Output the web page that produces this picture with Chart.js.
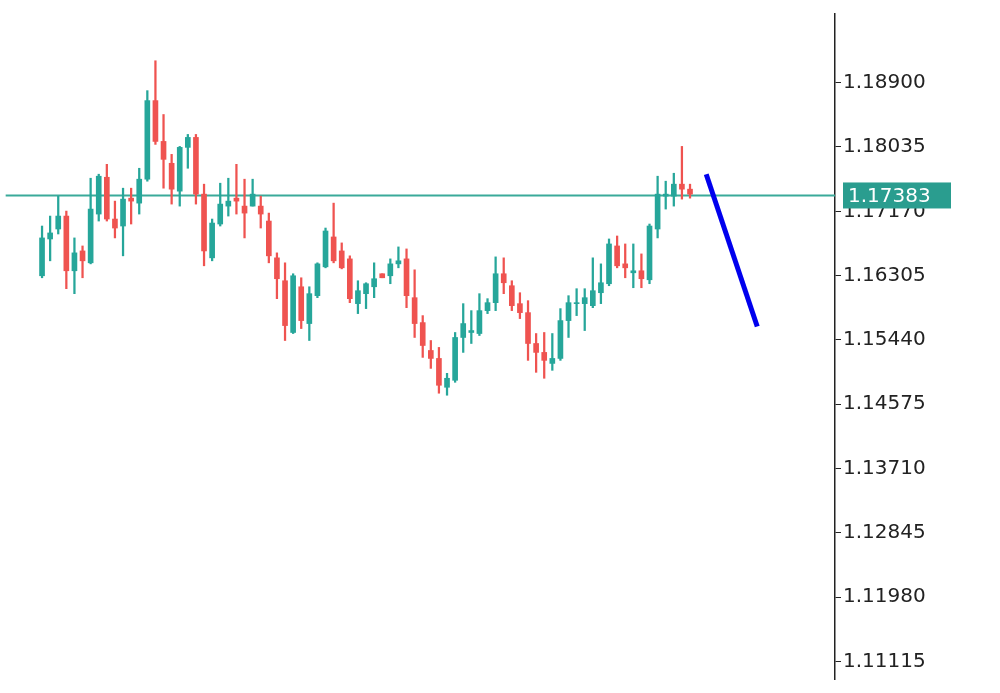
<!DOCTYPE html>
<html><head><meta charset="utf-8">
<script src="https://cdn.jsdelivr.net/npm/chart.js@4"></script>
<style>html,body{margin:0;padding:0;background:#fff}#w{width:1000px;height:693px}</style>
</head><body><div id="w"><canvas id="c"></canvas></div>
<script>
const opens=[1.16303,1.16798,1.16932,1.17106,1.16370,1.16637,1.16477,1.17133,1.17628,1.17066,1.16972,1.17347,1.17280,1.17602,1.18659,1.18110,1.17816,1.17441,1.18030,1.18164,1.17401,1.16544,1.16999,1.17240,1.17347,1.17240,1.17240,1.17240,1.17039,1.16544,1.16236,1.15540,1.16155,1.15660,1.16035,1.16423,1.16825,1.16637,1.16530,1.15928,1.16062,1.16155,1.16330,1.16303,1.16463,1.16530,1.16008,1.15673,1.15298,1.15191,1.14803,1.14897,1.15473,1.15540,1.15526,1.15834,1.15941,1.16330,1.16169,1.15928,1.15807,1.15392,1.15272,1.15124,1.15191,1.15700,1.15928,1.15928,1.15901,1.16075,1.16196,1.16704,1.16463,1.16343,1.16370,1.16249,1.16932,1.17374,1.17374,1.17535,1.17468];
const closes=[1.16812,1.16879,1.17106,1.16370,1.16611,1.16504,1.17200,1.17642,1.17066,1.16945,1.17334,1.17307,1.17602,1.18659,1.18110,1.17869,1.17468,1.18030,1.18164,1.17401,1.16637,1.17012,1.17267,1.17307,1.17307,1.17146,1.17401,1.17133,1.16571,1.16263,1.15633,1.16303,1.15700,1.16062,1.16463,1.16905,1.16504,1.16410,1.15995,1.16102,1.16196,1.16263,1.16276,1.16463,1.16504,1.16035,1.15660,1.15365,1.15191,1.14830,1.14924,1.15473,1.15660,1.15566,1.15834,1.15941,1.16330,1.16209,1.15901,1.15807,1.15392,1.15272,1.15165,1.15191,1.15700,1.15941,1.15941,1.16008,1.16102,1.16209,1.16731,1.16437,1.16410,1.16370,1.16263,1.16972,1.17401,1.17401,1.17535,1.17468,1.17401];
const highs=[1.16972,1.17106,1.17374,1.17173,1.16812,1.16704,1.17615,1.17669,1.17802,1.17307,1.17481,1.17481,1.17749,1.18793,1.19195,1.18472,1.17936,1.18043,1.18204,1.18204,1.17535,1.17066,1.17548,1.17615,1.17802,1.17602,1.17602,1.17374,1.17146,1.16611,1.16477,1.16330,1.16276,1.16155,1.16477,1.16945,1.17280,1.16745,1.16571,1.16236,1.16209,1.16477,1.16330,1.16530,1.16691,1.16664,1.16383,1.15767,1.15432,1.15339,1.14991,1.15540,1.15928,1.15834,1.16062,1.15995,1.16557,1.16544,1.16236,1.16075,1.15968,1.15526,1.15540,1.15526,1.15861,1.16035,1.16129,1.16129,1.16544,1.16463,1.16798,1.16838,1.16731,1.16731,1.16597,1.16999,1.17642,1.17575,1.17682,1.18043,1.17535];
const lows=[1.16276,1.16504,1.16865,1.16129,1.16062,1.16276,1.16463,1.17039,1.17039,1.16812,1.16571,1.16999,1.17133,1.17575,1.18070,1.17481,1.17267,1.17240,1.17749,1.17267,1.16437,1.16504,1.16972,1.17106,1.17133,1.16812,1.17240,1.16945,1.16477,1.15995,1.15432,1.15526,1.15593,1.15432,1.16008,1.16410,1.16477,1.16396,1.15941,1.15794,1.15861,1.16008,1.16276,1.16196,1.16410,1.15874,1.15473,1.15205,1.15057,1.14723,1.14696,1.14870,1.15272,1.15392,1.15499,1.15794,1.15834,1.16062,1.15834,1.15727,1.15165,1.15004,1.14924,1.15031,1.15165,1.15473,1.15767,1.15566,1.15874,1.15928,1.16169,1.16410,1.16276,1.16142,1.16142,1.16196,1.16812,1.17200,1.17240,1.17334,1.17347];
const tickLabels=[1.18900,1.18035,1.17170,1.16305,1.15440,1.14575,1.13710,1.12845,1.11980,1.11115];
const levelPrice=1.17383;
const arrowX=[82,88.3];
const arrowY=[1.17669,1.15620];

const GREEN='#26a69a',RED='#ef5350';
const idx=opens.map((_,i)=>i);
const cols=idx.map(i=>closes[i]>=opens[i]?GREEN:RED);
const bodies=idx.map(i=>{let a=opens[i],b=closes[i];if(Math.abs(a-b)<0.00008){b=a-0.00008;}return {x:i,y:[a,b]};});
const wicks=idx.map(i=>({x:i,y:[lows[i],highs[i]]}));
const XMIN=-5.19,XMAX=97.9;

const labelPlugin={id:'lbl',afterDraw(ch){const y=ch.scales.y,ctx=ch.ctx;const py=y.getPixelForValue(levelPrice);
ctx.save();ctx.fillStyle='#2a9d8f';ctx.fillRect(843,py-13,108,26);ctx.fillStyle='#fff';ctx.font='20px "DejaVu Sans"';ctx.textBaseline='middle';ctx.fillText(levelPrice.toFixed(5),848,py+1);ctx.restore();}};

new Chart(document.getElementById('c'),{
 data:{datasets:[
  {type:'line',data:[{x:XMIN+0.7,y:levelPrice},{x:XMAX,y:levelPrice}],borderColor:'#3aaa9a',borderWidth:2,pointRadius:0,order:3},
  {type:'bar',data:wicks,backgroundColor:cols,barThickness:1.6,grouped:false,order:2},
  {type:'bar',data:bodies,backgroundColor:cols,barThickness:5,grouped:false,order:1},
  {type:'line',data:arrowX.map((x,i)=>({x:x,y:arrowY[i]})),borderColor:'#0000ee',borderWidth:5,pointRadius:0,order:0}
 ]},
 options:{responsive:true,maintainAspectRatio:false,animation:false,
  layout:{padding:0},
  plugins:{legend:{display:false},tooltip:{enabled:false}},
  scales:{
   x:{type:'linear',min:XMIN,max:XMAX,display:false,offset:false},
   y:{position:'right',min:1.10879,max:1.19824,
     afterFit(s){s.width=165;},
     afterBuildTicks(s){s.ticks=tickLabels.map(v=>({value:v}));},
     ticks:{color:'#222',font:{family:'DejaVu Sans',size:20},padding:2,callback:v=>Number(v).toFixed(5)},
     grid:{drawOnChartArea:false,tickLength:6,color:'#222'},
     border:{color:'#222',width:1.5}}
  }},
 plugins:[labelPlugin]
});
</script></body></html>
